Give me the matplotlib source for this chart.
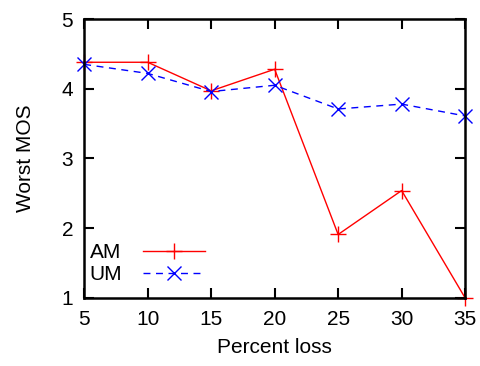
import matplotlib
matplotlib.use('Agg')
import matplotlib.pyplot as plt

plt.rcParams['font.family'] = ['Liberation Sans', 'DejaVu Sans']

# data
loss = [5, 10, 15, 20, 25, 30, 35]
am = [4.38, 4.38, 3.97, 4.28, 1.91, 2.54, 1.0]
um = [4.35, 4.22, 3.96, 4.05, 3.71, 3.78, 3.61]

fig = plt.figure(figsize=(4.81, 3.66), dpi=100)
ax = fig.add_axes([0.175, 0.186, 0.792, 0.762])

ax.plot(loss, am, color='red', lw=1.0, marker='+', ms=12, mew=1.0, label='AM', clip_on=False)
ax.plot(loss, um, color='blue', lw=1.0, ls=(0, (5, 4)), marker='x', ms=10, mew=1.0, label='UM', clip_on=False)

ax.set_xlim(5, 35)
ax.set_ylim(1, 5)
ax.set_xticks(loss)
ax.set_yticks([1, 2, 3, 4, 5])
ax.tick_params(direction='in', length=7, width=1.5, top=True, right=True, labelsize=15)
ax.tick_params(axis='x', pad=9)
ax.tick_params(axis='y', pad=8)
for s in ax.spines.values():
    s.set_linewidth(1.8)

ax.set_xlabel('Percent loss', fontsize=15, labelpad=6)
ax.set_ylabel('Worst MOS', fontsize=15, labelpad=19)

ax.legend(loc='lower left', bbox_to_anchor=(-0.02, 0.005), frameon=False, markerfirst=False,
          fontsize=15, handlelength=3.0, handletextpad=1.0, labelspacing=0.15, borderaxespad=0.2)

plt.savefig('out.png', dpi=100)
